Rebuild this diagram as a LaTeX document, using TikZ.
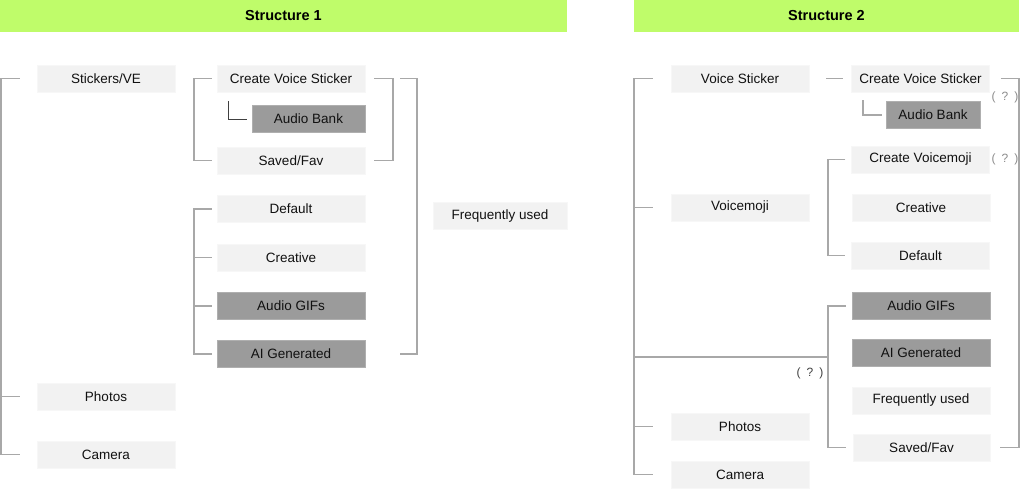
\documentclass[tikz,border=0pt]{standalone}
\usepackage{fontspec}
\setmainfont{Liberation Sans}
\usetikzlibrary{calc}
\definecolor{hdr}{HTML}{BFFC6A}
\definecolor{boxl}{HTML}{F2F2F2}
\definecolor{boxd}{HTML}{9B9B9B}
\definecolor{ln}{HTML}{A8A8A8}
\definecolor{txt}{HTML}{111111}
\tikzset{
  lbox/.style={fill=boxl, draw=boxl!60!white, line width=0.5pt, inner sep=0pt, minimum height=27pt, text=txt, font=\fontsize{13.5}{15}\selectfont},
  dbox/.style={lbox, fill=boxd, draw=boxd!80!white},
  hdrbar/.style={fill=hdr, inner sep=0pt, minimum height=32pt, font=\fontsize{14.5}{16}\bfseries\selectfont, text=black},
  conn/.style={draw=ln, line width=1.3pt},
  subconn/.style={draw=black!75, line width=0.9pt},
  qmark/.style={font=\fontsize{12}{14}\selectfont, text=black!45, inner sep=0pt},
}
\begin{document}
\begin{tikzpicture}[x=1pt,y=-1pt]
\useasboundingbox (0,0) rectangle (1024,490);
\fill[white] (0,0) rectangle (1024,490);
% headers
\node[hdrbar, minimum width=567pt] (h1) at (283.5,16) {Structure 1};
\node[hdrbar, minimum width=385pt] (h2) at (826.5,16) {Structure 2};

% ---------- Structure 1 ----------
\node[lbox, minimum width=138pt] (stick) at (106,78.5) {Stickers/VE};
\node[lbox, minimum width=138pt] (photos1) at (106,396.5) {Photos};
\node[lbox, minimum width=138pt] (camera1) at (106,454.5) {Camera};
\node[lbox, minimum width=148pt] (cvs1) at (291,78.5) {Create Voice Sticker};
\node[dbox, minimum width=113pt] (ab1) at (308.5,119) {Audio Bank};
\node[lbox, minimum width=148pt] (saved1) at (291,160.5) {Saved/Fav};
\node[lbox, minimum width=148pt] (def1) at (291,209) {Default};
\node[lbox, minimum width=148pt] (cre1) at (291,257.5) {Creative};
\node[dbox, minimum width=148pt] (gif1) at (291,306) {Audio GIFs};
\node[dbox, minimum width=148pt] (ai1) at (291,354) {AI Generated};
\node[lbox, minimum width=134pt] (freq1) at (500,216) {Frequently used};

\coordinate (sp1) at (1,0);
\coordinate (sp2) at (194,0);
\coordinate (sp3) at (393,0);
\coordinate (sp4) at (417,0);
\coordinate (sp5) at (228,0);

% left bracket
\draw[conn] ([xshift=-17pt]stick.west) -- (stick.west -| sp1) -- (camera1.west -| sp1) -- ([xshift=-17pt]camera1.west);
\draw[conn] ([xshift=-17pt]photos1.west) -- (photos1.west -| sp1);
% Create / Saved bracket
\draw[conn] ([xshift=-5pt]cvs1.west) -- (cvs1.west -| sp2) -- (saved1.west -| sp2) -- ([xshift=-5pt]saved1.west);
% audio bank
\draw[subconn] ([yshift=18pt]ab1.west -| sp5) -- (ab1.west -| sp5) -- ([xshift=-5pt]ab1.west);
% right inner bracket
\draw[conn] ([xshift=9pt]cvs1.east) -- (cvs1.east -| sp3) -- (saved1.east -| sp3) -- ([xshift=9pt]saved1.east);
% outer right bracket
\draw[conn] ([xshift=35pt]cvs1.east) -- (cvs1.east -| sp4) -- (ai1.east -| sp4) -- ([xshift=35pt]ai1.east);
% Default..AI bracket
\draw[conn] ([xshift=-5pt]def1.west) -- (def1.west -| sp2) -- (ai1.west -| sp2) -- ([xshift=-5pt]ai1.west);
\draw[conn] ([xshift=-5pt]cre1.west) -- (cre1.west -| sp2);
\draw[conn] ([xshift=-5pt]gif1.west) -- (gif1.west -| sp2);

% ---------- Structure 2 ----------
\node[lbox, minimum width=138pt] (vs2) at (740,78.5) {Voice Sticker};
\node[lbox, minimum width=138pt] (vm2) at (740,207.5) {Voicemoji};
\node[lbox, minimum width=138pt] (photos2) at (740,426.5) {Photos};
\node[lbox, minimum width=138pt] (camera2) at (740,474.5) {Camera};
\node[lbox, minimum width=138pt] (cvs2) at (920.5,78.5) {Create Voice Sticker};
\node[dbox, minimum width=94pt] (ab2) at (933,115) {Audio Bank};
\node[lbox, minimum width=138pt] (cvm2) at (920.5,159.5) {Create Voicemoji};
\node[lbox, minimum width=138pt] (cre2) at (921,207.5) {Creative};
\node[lbox, minimum width=138pt] (def2) at (920.5,255.5) {Default};
\node[dbox, minimum width=138pt] (gif2) at (921,306) {Audio GIFs};
\node[dbox, minimum width=138pt] (ai2) at (921,353) {AI Generated};
\node[lbox, minimum width=138pt] (freq2) at (921,400.5) {Frequently used};
\node[lbox, minimum width=137pt] (saved2) at (921.5,447.5) {Saved/Fav};

\node[qmark] (q1) at (1005,97) {(\enspace?\enspace)};
\node[qmark] (q2) at (1005,159) {(\enspace?\enspace)};
\node[qmark, text=black!75] (q3) at (810,373) {(\enspace?\enspace)};

\coordinate (tp1) at (634,0);
\coordinate (tp2) at (828,0);
\coordinate (tp3) at (1019,0);
\coordinate (tp4) at (863,0);
\coordinate (hy) at (0,357);

% left spine
\draw[conn] ([xshift=-18pt]vs2.west) -- (vs2.west -| tp1) -- (camera2.west -| tp1) -- ([xshift=-18pt]camera2.west);
\draw[conn] ([xshift=-18pt]vm2.west) -- (vm2.west -| tp1);
\draw[conn] ([xshift=-18pt]photos2.west) -- (photos2.west -| tp1);
% voice sticker -> create
\draw[conn] ([xshift=17pt]vs2.east) -- ([xshift=-8pt]cvs2.west);
% audio bank L
\draw[conn] ([yshift=15pt]ab2.west -| tp4) -- (ab2.west -| tp4) -- ([xshift=-4pt]ab2.west);
% right bracket
\draw[conn] ([xshift=11pt]cvs2.east) -- (cvs2.east -| tp3) -- (saved2.east -| tp3) -- ([xshift=10pt]saved2.east);
% voicemoji bracket
\draw[conn] ([xshift=-6pt]cvm2.west) -- (cvm2.west -| tp2) -- (def2.west -| tp2) -- ([xshift=-6pt]def2.west);
% audio gifs bracket
\draw[conn] ([xshift=-6pt]gif2.west) -- (gif2.west -| tp2) -- (saved2.west -| tp2) -- ([xshift=-7pt]saved2.west);
% horizontal link
\draw[conn] (hy -| tp1) -- (hy -| tp2);
\end{tikzpicture}
\end{document}
